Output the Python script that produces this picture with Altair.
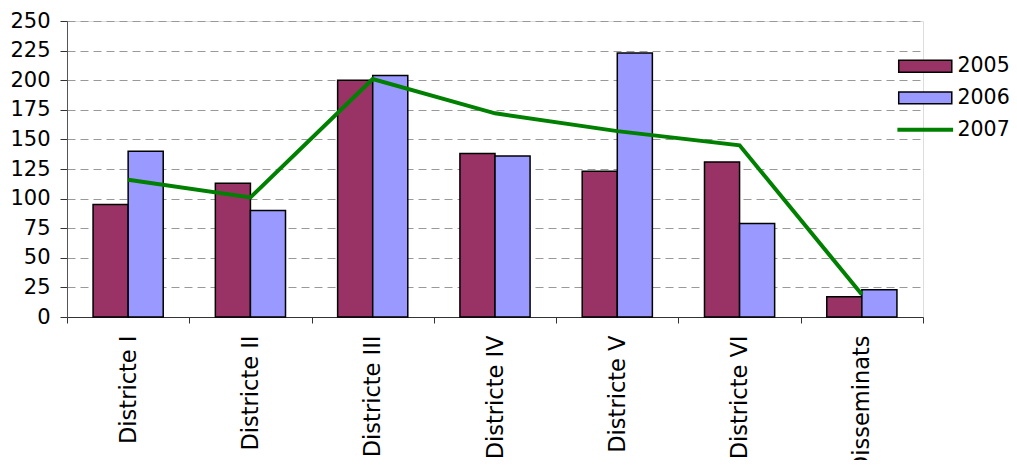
import altair as alt
import pandas as pd

districts = ["Districte I", "Districte II", "Districte III", "Districte IV",
             "Districte V", "Districte VI", "Disseminats"]
v2005 = [95, 113, 200, 138, 123, 131, 17]
v2006 = [140, 90, 204, 136, 223, 79, 23]
v2007 = [116, 101, 201, 172, 157, 145, 19]
bar_years = ["2005", "2006"]
bar_colors = ["#993366", "#9999FF"]
line_years = ["2007"]
line_colors = ["#008000"]
y_ticks = list(range(0, 251, 25))

bars = pd.DataFrame({
    "district": districts * 2,
    "year": ["2005"] * 7 + ["2006"] * 7,
    "value": v2005 + v2006,
})
line = pd.DataFrame({"district": districts, "year": ["2007"] * 7, "value": v2007})

FONT = "DejaVu Sans"
rect_path = "M-4,-0.9L4,-0.9L4,0.9L-4,0.9Z"
line_path = "M-4.2,0L4.2,0"

x = alt.X(
    "district:N", sort=districts, title=None,
    scale=alt.Scale(paddingInner=0, paddingOuter=0),
    axis=alt.Axis(labelAngle=270, labelFont=FONT, labelFontSize=22.5, labelColor="black",
                  tickBand="extent", ticks=True, tickSize=6, tickColor="#333",
                  domainColor="#333", labelPadding=12, grid=False, labelLimit=300),
)
y = alt.Y(
    "value:Q", title=None,
    scale=alt.Scale(domain=[0, 250], nice=False),
    axis=alt.Axis(values=y_ticks, labelFont=FONT, labelFontSize=21, labelColor="black",
                  tickSize=7, tickColor="#333", domainColor="#555", labelPadding=10,
                  grid=True, gridColor="#999", gridDash=[8, 5], gridWidth=1),
)

bar_layer = alt.Chart(bars).mark_bar(stroke="black", strokeWidth=1.5, opacity=1).encode(
    x=x, y=y,
    xOffset=alt.XOffset("year:N", sort=bar_years,
                        scale=alt.Scale(paddingInner=0, paddingOuter=0.743)),
    fill=alt.Fill(
        "year:N", scale=alt.Scale(domain=bar_years, range=bar_colors),
        legend=alt.Legend(
            title=None, orient="none", legendX=848, legendY=35, padding=0,
            symbolType=rect_path, symbolSize=176, symbolStrokeColor="black",
            symbolStrokeWidth=1.5, symbolOpacity=1,
            labelFont=FONT, labelFontSize=20.5, labelColor="black",
            labelOffset=22, rowPadding=10.6,
        ),
    ),
)
line_layer = alt.Chart(line).mark_line(strokeWidth=4).encode(
    x=x, y=y,
    stroke=alt.Stroke(
        "year:N", scale=alt.Scale(domain=line_years, range=line_colors),
        legend=alt.Legend(
            title=None, orient="none", legendX=848, legendY=98.5, padding=0,
            symbolType=line_path, symbolSize=176, symbolStrokeWidth=4,
            symbolFillColor="transparent",
            labelFont=FONT, labelFontSize=20.5, labelColor="black",
            labelOffset=22,
        ),
    ),
)

chart = alt.layer(bar_layer, line_layer).resolve_scale(fill="independent", stroke="independent").properties(
    width=856, height=296,
    autosize=alt.AutoSizeParams(type="none"),
    padding={"left": 59, "top": 13, "right": 86, "bottom": 143},
).configure_view(stroke=None).configure(background="white")

chart.save("out.html", embed_options={"renderer": "svg", "actions": False})
